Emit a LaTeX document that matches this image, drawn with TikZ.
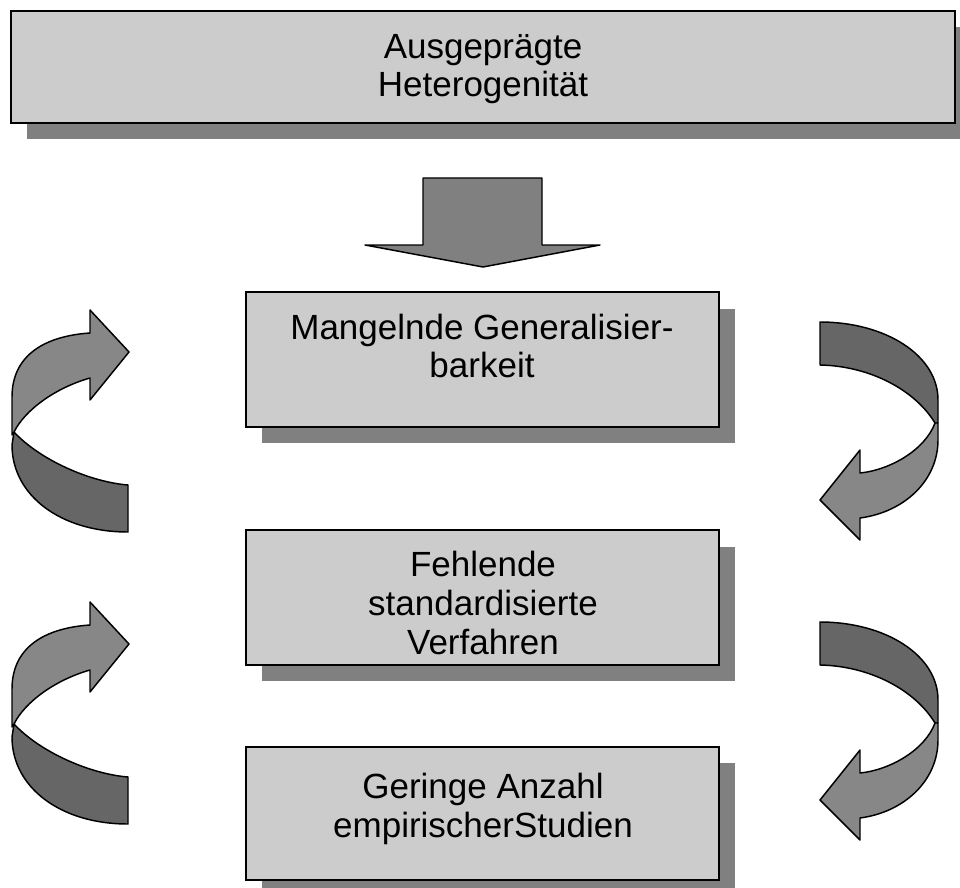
\documentclass[tikz,border=0pt]{standalone}
\usepackage{fontspec}
\setmainfont{Liberation Sans}
\definecolor{boxgray}{HTML}{CCCCCC}
\definecolor{shadowgray}{HTML}{808080}
\definecolor{downgray}{HTML}{808080}
\definecolor{arrowlight}{HTML}{878787}
\definecolor{arrowdark}{HTML}{666666}
\begin{document}
\begin{tikzpicture}[x=0.75pt,y=-0.75pt,
  boxfill/.style={fill=boxgray, draw=black, line width=2pt},
  shadowfill/.style={fill=shadowgray, draw=none},
  lbl/.style={font=\fontsize{26.25}{28.9}\selectfont, align=center, inner sep=0pt},
  lightpart/.style={fill=arrowlight, draw=black, line width=1.1pt, line join=round},
  darkpart/.style={fill=arrowdark, draw=black, line width=1.1pt, line join=round}]
\useasboundingbox (0,0) rectangle (960,888);
\clip (0,0) rectangle (960,888);

% boxes with shadows
\path[shadowfill] (27,27) rectangle (971,139);
\path[boxfill] (11,11) rectangle (955,123);
\path[shadowfill] (262,309) rectangle (735,443);
\path[boxfill] (246,292) rectangle (719,427);
\path[shadowfill] (262,547) rectangle (735,681);
\path[boxfill] (246,530) rectangle (719,665);
\path[shadowfill] (262,763) rectangle (735,896);
\path[boxfill] (246,747) rectangle (719,880);

\node[lbl] (t1) at (483,69) {Ausgeprägte\\Heterogenität};
\node[lbl] (t2) at (482,346) {Mangelnde Generalisier-\\barkeit};
\node[lbl] (t3) at (483,603) {Fehlende\\standardisierte\\Verfahren};
\node[lbl] (t4) at (483,809) {Geringe Anzahl\\empirischerStudien};

% down arrow
\path[lightpart, fill=downgray] (423,178) -- (542,178) -- (542,245) -- (600,245) -- (483,267) -- (365,245) -- (423,245) -- cycle;

% left curved arrows
\foreach \dy in {0,292}{
\begin{scope}[shift={(0,\dy)}]
\path[darkpart] (14,432) .. controls (40,460) and (90,482) .. (128,485) -- (128,532) .. controls (60,532) and (12,495) .. (12,445) -- cycle;
\path[lightpart] (12,435) -- (12,397) .. controls (12,355) and (45,336) .. (90,333) -- (90,310) -- (129,352) -- (90,400) -- (90,378) .. controls (55,388) and (25,410) .. (14,432) -- cycle;
\end{scope}
}

% right curved arrows
\foreach \dy in {0,300}{
\begin{scope}[shift={(0,\dy)}]
\path[darkpart] (820,322) .. controls (885,322) and (938,355) .. (938,400) -- (938,423) -- (935,423) .. controls (915,390) and (870,366) .. (820,365) -- cycle;
\path[lightpart] (935,423) .. controls (925,450) and (890,470) .. (860,473) -- (860,450) -- (820,500) -- (860,540) -- (860,518) .. controls (905,512) and (938,480) .. (938,440) -- (938,423) -- cycle;
\end{scope}
}
\end{tikzpicture}
\end{document}
